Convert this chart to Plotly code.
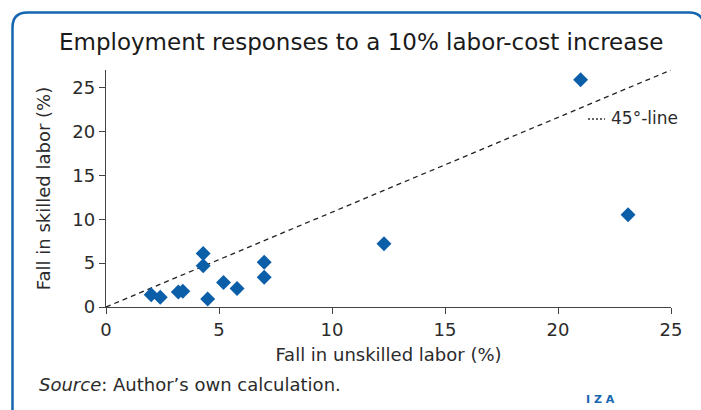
import plotly.graph_objects as go

# ---- data ----
unskilled_fall = [21.0, 23.1, 12.3, 7.0, 7.0, 4.3, 4.3, 4.5, 5.2, 5.8, 3.2, 3.4, 2.0, 2.4]
skilled_fall = [25.9, 10.5, 7.2, 5.1, 3.4, 6.1, 4.7, 0.9, 2.8, 2.1, 1.7, 1.8, 1.4, 1.1]
line_x = [0, 25]
line_y = [0, 27]
tick_vals = [0, 5, 10, 15, 20, 25]

title_text = "Employment responses to a 10% labor-cost increase"
x_title = "Fall in unskilled labor (%)"
y_title = "Fall in skilled labor (%)"
line_label = "45°-line"
source_text = "<i>Source</i>: Author’s own calculation."

# ---- layout geometry (pixels) ----
W, H = 701, 410
ML, MR, MT, MB = 106, 30, 70, 103
PW = W - ML - MR
PH = H - MT - MB

def px(x):
    return (x - ML) / PW

def py(y):
    return (H - MB - y) / PH

FONT = "DejaVu Sans"
TXT = "#2b2b2b"
BLUE = "#0b5ea8"
FRAME = "#1565b0"

fig = go.Figure()

fig.add_trace(go.Scatter(
    x=line_x, y=line_y, mode="lines",
    line=dict(color="#222222", width=1.3, dash="5px,4px"),
    hoverinfo="skip", showlegend=False, cliponaxis=False,
))
fig.add_trace(go.Scatter(
    x=unskilled_fall, y=skilled_fall, mode="markers",
    marker=dict(symbol="diamond", size=11.5, color=BLUE),
    showlegend=False, cliponaxis=False,
))

# rounded frame
L, T, R, B, r = 12.5, 12.5, 704, 414, 15
path = (
    f"M {px(L)} {py(B)} L {px(L)} {py(T + r)} "
    f"Q {px(L)} {py(T)} {px(L + r)} {py(T)} "
    f"L {px(R - r)} {py(T)} Q {px(R)} {py(T)} {px(R)} {py(T + r)} "
    f"L {px(R)} {py(B)}"
)
shapes = [
    dict(type="path", xref="paper", yref="paper", path=path,
         line=dict(color=FRAME, width=2.5)),
    dict(type="line", xref="paper", yref="paper",
         x0=px(588), x1=px(605), y0=py(119), y1=py(119),
         line=dict(color="#333333", width=1.3, dash="2px,2px")),
]

annotations = [
    dict(text=title_text, xref="paper", yref="paper", x=px(361), y=py(42),
         xanchor="center", yanchor="middle", showarrow=False,
         font=dict(family=FONT, size=23, color="#1a1a1a")),
    dict(text=line_label, xref="paper", yref="paper", x=px(609), y=py(118),
         xanchor="left", yanchor="middle", showarrow=False,
         font=dict(family=FONT, size=17, color=TXT)),
    dict(text=source_text, xref="paper", yref="paper", x=px(37), y=py(384),
         xanchor="left", yanchor="middle", showarrow=False,
         font=dict(family=FONT, size=18, color=TXT)),
    dict(text="<b>I Z A</b>", xref="paper", yref="paper", x=px(600), y=py(400),
         xanchor="center", yanchor="middle", showarrow=False, borderpad=0,
         font=dict(family=FONT, size=11, color=FRAME)),
]

axis_common = dict(
    showline=True, linecolor="#444444", linewidth=1.3,
    ticks="outside", ticklen=6, tickcolor="#444444", tickwidth=1.3,
    showgrid=False, zeroline=False,
    tickvals=tick_vals,
    tickfont=dict(family=FONT, size=18, color=TXT),
)

fig.update_layout(
    width=W, height=H,
    margin=dict(l=ML, r=MR, t=MT, b=MB),
    paper_bgcolor="white", plot_bgcolor="white",
    xaxis=dict(range=[0, 25], title=dict(text=x_title, standoff=9,
               font=dict(family=FONT, size=18, color=TXT)), **axis_common),
    yaxis=dict(range=[0, 27], title=dict(text=y_title, standoff=17,
               font=dict(family=FONT, size=18, color=TXT)), **axis_common),
    shapes=shapes,
    annotations=annotations,
    showlegend=False,
)

fig.write_html("out.html", config={"displayModeBar": False},
               post_script="document.body.style.margin='0px';")
